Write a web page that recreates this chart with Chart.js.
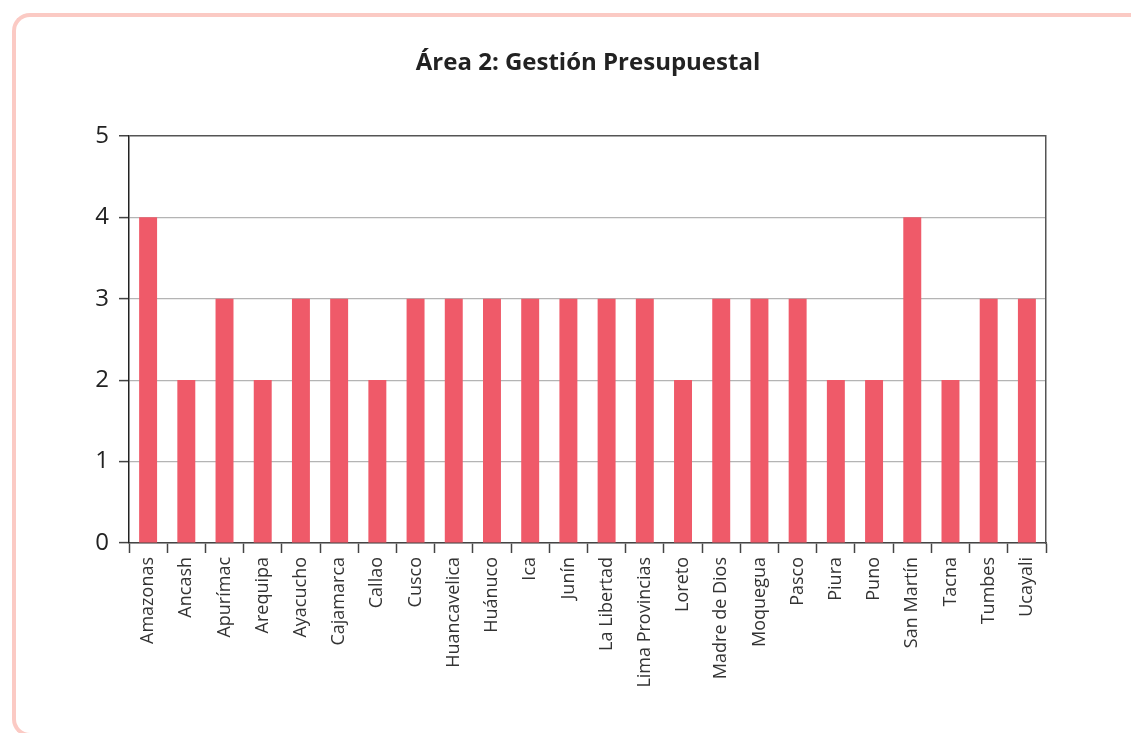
<!DOCTYPE html>
<html>
<head>
<meta charset="utf-8">
<script src="https://cdn.jsdelivr.net/npm/chart.js@4/dist/chart.umd.min.js"></script>
<style>
  html, body { margin: 0; padding: 0; background: #fff; overflow: hidden; }
  #frame {
    position: absolute; left: 12px; top: 13px; width: 1200px; height: 716px;
    border: 4px solid #fbcac4; border-radius: 18px; border-right: none;
  }
  #wrap { position: absolute; left: 0; top: 0; width: 1131px; height: 733px; }
</style>
</head>
<body>
<div id="frame"></div>
<div id="wrap"><canvas id="chart"></canvas></div>
<script>
// Data
const regions = ['Amazonas', 'Ancash', 'Apurímac', 'Arequipa', 'Ayacucho', 'Cajamarca', 'Callao', 'Cusco',
  'Huancavelica', 'Huánuco', 'Ica', 'Junín', 'La Libertad', 'Lima Provincias', 'Loreto', 'Madre de Dios',
  'Moquegua', 'Pasco', 'Piura', 'Puno', 'San Martín', 'Tacna', 'Tumbes', 'Ucayali'];
const scores = [4, 2, 3, 2, 3, 3, 2, 3, 3, 3, 3, 3, 3, 3, 2, 3, 3, 3, 2, 2, 4, 2, 3, 3];
const chartTitle = 'Área 2: Gestión Presupuestal';
const yMin = 0;
const yMax = 5;

const ctx = document.getElementById('chart').getContext('2d');

new Chart(ctx, {
  type: 'bar',
  data: {
    labels: regions,
    datasets: [{
      data: scores,
      backgroundColor: '#ef5a69',
      borderWidth: 0,
      barPercentage: 0.47,
      categoryPercentage: 1,
      yAxisID: 'y'
    }]
  },
  options: {
    responsive: true,
    maintainAspectRatio: false,
    animation: false,
    layout: { padding: { left: 45, right: 0, top: 0, bottom: 0 } },
    plugins: {
      legend: { display: false },
      tooltip: { enabled: false },
      title: {
        display: true,
        text: chartTitle,
        color: '#222',
        font: { family: 'Open Sans', size: 24, weight: 'bold', lineHeight: 1.2 },
        padding: { top: 49, bottom: 58 }
      }
    },
    scales: {
      x: {
        grid: {
          offset: true,
          drawOnChartArea: false,
          drawTicks: true,
          tickLength: 10,
          tickColor: '#444',
          tickWidth: 1.5
        },
        border: { display: true, color: '#444', width: 1.5 },
        ticks: {
          color: '#333',
          font: { family: 'Open Sans', size: 18 },
          minRotation: 90,
          maxRotation: 90,
          padding: 4,
          autoSkip: false
        },
        afterFit: (scale) => { scale.height = 190; }
      },
      y: {
        min: yMin,
        max: yMax,
        ticks: {
          stepSize: 1,
          color: '#222',
          font: { family: 'Open Sans', size: 24 },
          padding: 10
        },
        grid: {
          color: (c) => c.tick && c.tick.value === yMax ? '#555' : '#b4b4b4',
          lineWidth: (c) => c.tick && c.tick.value === yMax ? 1.5 : 1.2,
          tickLength: 10,
          tickColor: '#444',
          tickWidth: 1.5
        },
        border: { display: true, color: '#222', width: 1.5 },
        afterFit: (scale) => { scale.width = 84; }
      },
      yRight: {
        position: 'right',
        min: yMin,
        max: yMax,
        grid: { display: false },
        ticks: { display: false },
        border: { display: true, color: '#555', width: 1.5 },
        afterFit: (scale) => { scale.width = 85; }
      }
    }
  }
});
</script>
</body>
</html>
